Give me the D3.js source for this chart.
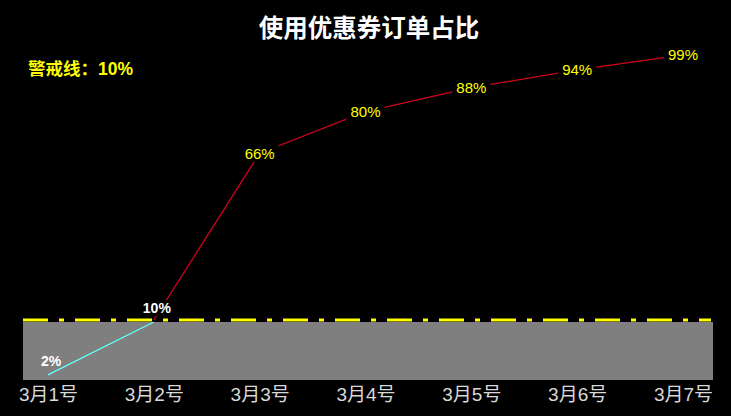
<!doctype html>
<meta charset="utf-8">
<script src="https://d3js.org/d3.v7.min.js"></script>
<style>
  html, body { margin: 0; padding: 0; background: #000; }
  svg { display: block; font-family: "Liberation Sans", Arial, "Noto Sans CJK SC", sans-serif; }
</style>
<body></body>
<script>

var width = 731;
var height = 416;

// data
var categories = ["3月1号", "3月2号", "3月3号", "3月4号", "3月5号", "3月6号", "3月7号"];
var lowValues = [2, 10, null, null, null, null, null];      // below the alarm line
var highValues = [null, 10, 66, 80, 88, 94, 99];            // above the alarm line
var alarm = 10;
var title = "使用优惠券订单占比";
var alarmText = "警戒线：10%";

var svg = d3.select("body")
        .append("svg")
        .attr("width", width)
        .attr("height", height);

svg.append("rect")
        .attr("width", width)
        .attr("height", height)
        .attr("fill", "#000");

var x = d3.scalePoint()
        .domain(categories)
        .range([48, 683]);

// two scales: the grey band zooms in on 0-10%
var yHigh = d3.scaleLinear()
        .domain([10, 100])
        .range([320, 52]);

var yLow = d3.scaleLinear()
        .domain([0, 10])
        .range([388, 322]);

var plotLeft = 23, plotRight = 713, plotBottom = 380;

// grey danger band
svg.append("rect")
        .attr("x", plotLeft)
        .attr("y", yLow(alarm))
        .attr("width", plotRight - plotLeft)
        .attr("height", plotBottom - yLow(alarm))
        .attr("fill", "#7f7f7f");

// alarm line
svg.append("line")
        .attr("x1", plotLeft)
        .attr("x2", plotRight - 2)
        .attr("y1", yHigh(alarm))
        .attr("y2", yHigh(alarm))
        .attr("stroke", "#ffff00")
        .attr("stroke-width", 3)
        .attr("stroke-dasharray", "25,11,5,11");

// lines
var lowLine = d3.line()
        .defined(function(d){ return d != null; })
        .x(function(d, i){ return x(categories[i]); })
        .y(function(d){ return yLow(d); });

var highLine = d3.line()
        .defined(function(d){ return d != null; })
        .x(function(d, i){ return x(categories[i]); })
        .y(function(d){ return yHigh(d); });

svg.append("path")
        .attr("d", highLine(highValues))
        .attr("fill", "none")
        .attr("stroke", "#d0021b")
        .attr("stroke-width", 1.3);

svg.append("path")
        .attr("d", lowLine(lowValues))
        .attr("fill", "none")
        .attr("stroke", "#66ffff")
        .attr("stroke-width", 1.3);

// labels of the upper series (black box breaks the line)
var highLabels = svg.append("g")
        .selectAll("g")
        .data(highValues.map(function(v, i){ return {v: v, c: categories[i]}; })
              .filter(function(d){ return d.v != null && d.v > alarm; }))
        .enter()
        .append("g")
        .attr("transform", function(d){ return "translate(" + x(d.c) + "," + yHigh(d.v) + ")"; });

highLabels.append("rect")
        .attr("x", -19)
        .attr("y", -9)
        .attr("width", 38)
        .attr("height", 18)
        .attr("fill", "#000");

highLabels.append("text")
        .attr("text-anchor", "middle")
        .attr("dy", "0.36em")
        .attr("fill", "#ffff00")
        .style("font-size", "15px")
        .text(function(d){ return d.v + "%"; });

// labels of the lower series
var lowLabels = svg.append("g")
        .selectAll("g")
        .data(lowValues.map(function(v, i){ return {v: v, c: categories[i]}; })
              .filter(function(d){ return d.v != null; }))
        .enter()
        .append("g")
        .attr("transform", function(d){ return "translate(" + (x(d.c) + 3) + "," + (yLow(d.v) - 14) + ")"; });

lowLabels.append("rect")
        .attr("x", -16)
        .attr("y", -8)
        .attr("width", 32)
        .attr("height", 16)
        .attr("fill", function(d){ return d.v >= alarm ? "#000" : "none"; });

lowLabels.append("text")
        .attr("text-anchor", "middle")
        .attr("dy", "0.36em")
        .attr("fill", "#fff")
        .style("font-size", "14px")
        .style("font-weight", "bold")
        .text(function(d){ return d.v + "%"; });

// x axis
var xAxis = svg.append("g")
        .attr("transform", "translate(0," + plotBottom + ")")
        .call(d3.axisBottom(x).tickSize(0).tickPadding(8));

xAxis.select(".domain").remove();
xAxis.selectAll("text")
        .attr("fill", "#d9d9d9")
        .style("font-size", "19px")
        .style("font-family", "\"Liberation Sans\", Arial, \"Noto Sans CJK SC\", sans-serif");

// title and alarm note
svg.append("text")
        .attr("x", 369)
        .attr("y", 37)
        .attr("text-anchor", "middle")
        .attr("fill", "#fff")
        .style("font-size", "24.5px")
        .style("font-weight", "bold")
        .text(title);

svg.append("text")
        .attr("x", 28)
        .attr("y", 75)
        .attr("fill", "#ffff00")
        .style("font-size", "17.5px")
        .style("font-weight", "bold")
        .text(alarmText);

</script>
